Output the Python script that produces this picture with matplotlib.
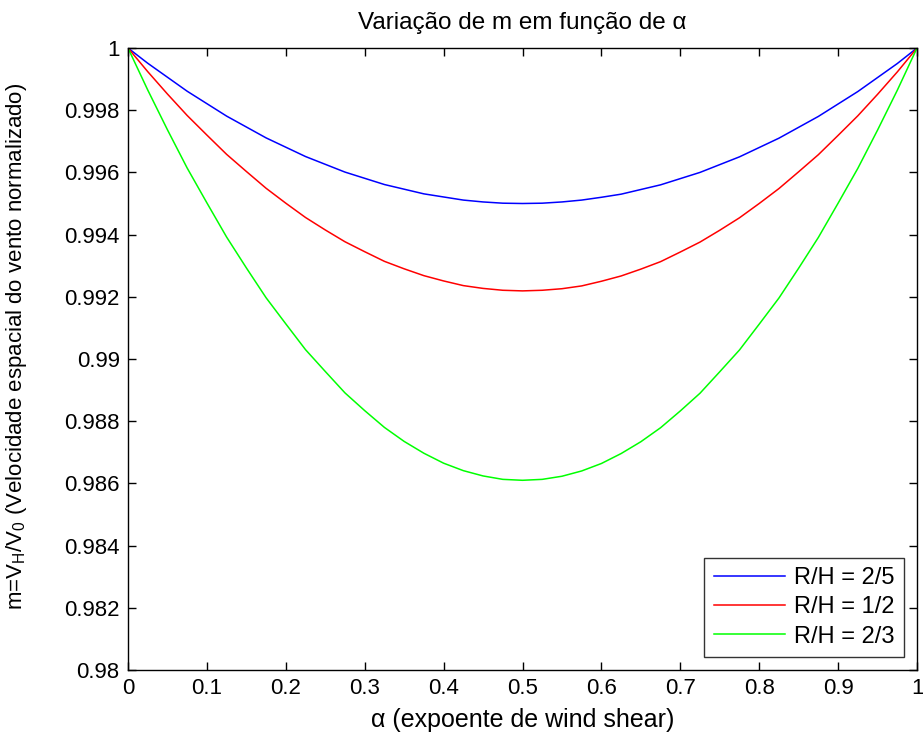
import matplotlib
matplotlib.use("Agg")
import matplotlib.pyplot as plt
from matplotlib.ticker import FormatStrFormatter

plt.rcParams["font.family"] = ["Liberation Sans", "DejaVu Sans"]
plt.rcParams["mathtext.default"] = "regular"

# normalized wind speed m over the shear exponent alpha
alpha = [0.0, 0.025, 0.05, 0.075, 0.1, 0.125, 0.15, 0.175, 0.2, 0.225,
         0.25, 0.275, 0.3, 0.325, 0.35, 0.375, 0.4, 0.425, 0.45, 0.475,
         0.5, 0.525, 0.55, 0.575, 0.6, 0.625, 0.65, 0.675, 0.7, 0.725,
         0.75, 0.775, 0.8, 0.825, 0.85, 0.875, 0.9, 0.925, 0.95, 0.975, 1.0]

m_2_5 = [1.0, 0.99951, 0.99906, 0.99861, 0.99821, 0.99781, 0.99746, 0.99711,
         0.99681, 0.99651, 0.99626, 0.99601, 0.99581, 0.99561, 0.99546,
         0.99531, 0.99521, 0.99511, 0.99505, 0.99501, 0.99500, 0.99501,
         0.99505, 0.99511, 0.99520, 0.99530, 0.99545, 0.99560, 0.99580,
         0.99600, 0.99625, 0.99650, 0.99680, 0.99710, 0.99745, 0.99780,
         0.99820, 0.99860, 0.99905, 0.99950, 1.0]
m_1_2 = [1.0, 0.99924, 0.99852, 0.99783, 0.99720, 0.99658, 0.99603, 0.99549,
         0.99501, 0.99455, 0.99415, 0.99377, 0.99345, 0.99314, 0.99290,
         0.99268, 0.99251, 0.99236, 0.99227, 0.99221, 0.99219, 0.99221,
         0.99226, 0.99235, 0.99250, 0.99267, 0.99289, 0.99313, 0.99344,
         0.99376, 0.99414, 0.99454, 0.99500, 0.99548, 0.99602, 0.99657,
         0.99719, 0.99782, 0.99851, 0.99923, 1.0]
m_2_3 = [1.0, 0.99865, 0.99737, 0.99614, 0.99502, 0.99392, 0.99293, 0.99197,
         0.99113, 0.99030, 0.98960, 0.98891, 0.98834, 0.98780, 0.98735,
         0.98697, 0.98665, 0.98641, 0.98624, 0.98613, 0.98610, 0.98613,
         0.98623, 0.98640, 0.98664, 0.98696, 0.98734, 0.98779, 0.98833,
         0.98890, 0.98959, 0.99029, 0.99112, 0.99196, 0.99292, 0.99391,
         0.99501, 0.99613, 0.99736, 0.99864, 1.0]

series = [
    (m_2_5, "#0000ff", "R/H = 2/5"),
    (m_1_2, "#ff0000", "R/H = 1/2"),
    (m_2_3, "#00ff00", "R/H = 2/3"),
]

xticks = [0, 0.1, 0.2, 0.3, 0.4, 0.5, 0.6, 0.7, 0.8, 0.9, 1]
yticks = [0.98, 0.982, 0.984, 0.986, 0.988, 0.99, 0.992, 0.994, 0.996, 0.998, 1]

fs = 16

fig = plt.figure(figsize=(9.23, 7.40), dpi=100)
ax = fig.add_axes([128 / 923, 1 - 670 / 740, (917 - 128) / 923, (670 - 48) / 740])

for values, color, label in series:
    ax.plot(alpha, values, color=color, lw=1.1, label=label)

ax.set_xlim(0, 1)
ax.set_ylim(0.98, 1)
ax.set_xticks(xticks)
ax.set_yticks(yticks)
ax.xaxis.set_major_formatter(FormatStrFormatter("%g"))
ax.yaxis.set_major_formatter(FormatStrFormatter("%g"))
ax.tick_params(direction="in", length=6, width=1, top=True, right=True,
               labelsize=fs, pad=6)
for spine in ax.spines.values():
    spine.set_linewidth(1)

ax.set_title("Variação de m em função de α", fontsize=17.5, pad=14)
ax.set_xlabel("α (expoente de wind shear)", fontsize=18, labelpad=6)
ax.set_ylabel("m=V$_H$/V$_0$ (Velocidade espacial do vento normalizado)",
              fontsize=16, labelpad=12)
ax.yaxis.set_label_coords(-0.125, 0.52)

leg = ax.legend(loc="lower right", fontsize=17, frameon=True, fancybox=False,
                borderaxespad=0.55, handlelength=3.0, labelspacing=0.3,
                borderpad=0.4, handletextpad=0.4)
leg.get_frame().set_edgecolor("black")
leg.get_frame().set_linewidth(1)

fig.savefig("out.png", dpi=100)
